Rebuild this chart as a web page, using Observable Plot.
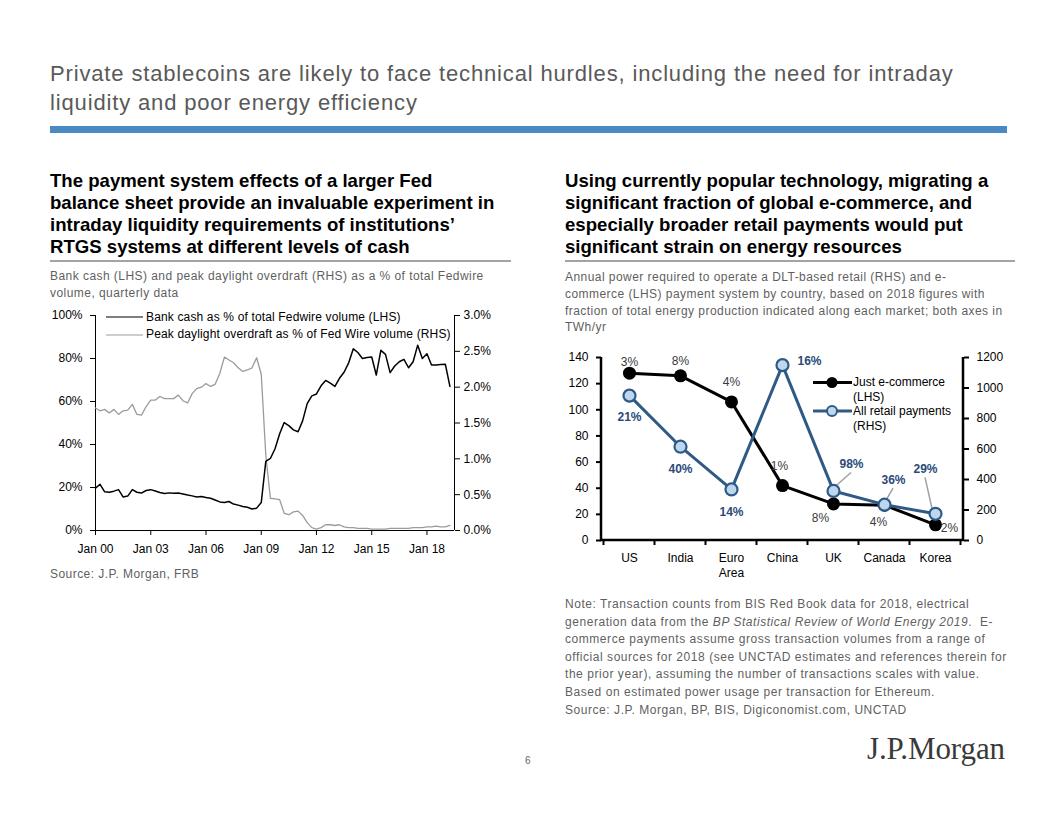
<!DOCTYPE html>
<html><head><meta charset="utf-8">
<script src="https://cdn.jsdelivr.net/npm/d3@7"></script>
<script src="https://cdn.jsdelivr.net/npm/@observablehq/plot@0.6"></script>
<style>
html,body{margin:0;padding:0;background:#fff;}
body{width:1056px;height:816px;position:relative;overflow:hidden;font-family:"Liberation Sans",Arial,sans-serif;}
.abs{position:absolute;white-space:nowrap;}
#title{left:50px;top:59px;font-size:22px;line-height:29px;color:#595959;letter-spacing:0.85px;}
#bar{left:50px;top:126px;width:957px;height:7px;background:#4a89c2;}
.hdr{font-weight:bold;font-size:18.6px;line-height:22px;color:#000;top:170px;}
.sep{height:2px;background:#a3a3a3;top:260px;}
.sub{font-size:12px;color:#5f5f5f;letter-spacing:0.45px;}
.leg{font-size:12px;color:#000;letter-spacing:0.15px;}
svg text{font-family:"Liberation Sans",Arial,sans-serif;}
</style></head>
<body>
<div id="title" class="abs">Private stablecoins are likely to face technical hurdles, including the need for intraday<br>liquidity and poor energy efficiency</div>
<div id="bar" class="abs"></div>
<div class="abs hdr" style="left:50px">The payment system effects of a larger Fed<br>balance sheet provide an invaluable experiment in<br>intraday liquidity requirements of institutions’<br>RTGS systems at different levels of cash</div>
<div class="abs hdr" style="left:565px">Using currently popular technology, migrating a<br>significant fraction of global e-commerce, and<br>especially broader retail payments would put<br>significant strain on energy resources</div>
<div class="abs sep" style="left:50px;width:461px"></div>
<div class="abs sep" style="left:565px;width:450px"></div>
<div class="abs sub" style="left:50px;top:268px;line-height:17px">Bank cash (LHS) and peak daylight overdraft (RHS) as a % of total Fedwire<br>volume, quarterly data</div>
<div class="abs sub" style="left:565px;top:269px;line-height:16.8px">Annual power required to operate a DLT-based retail (RHS) and e-<br>commerce (LHS) payment system by country, based on 2018 figures with<br>fraction of total energy production indicated along each market; both axes in<br>TWh/yr</div>
<div id="c1" class="abs" style="left:40px;top:300px"></div>
<div id="c2" class="abs" style="left:560px;top:340px"></div>
<div class="abs sub" style="left:50px;top:566px;line-height:17px">Source: J.P. Morgan, FRB</div>
<div class="abs sub" style="left:565px;top:596px;line-height:17.6px;letter-spacing:0.55px">Note: Transaction counts from BIS Red Book data for 2018, electrical<br>generation data from the <i>BP Statistical Review of World Energy 2019</i>.&nbsp; E-<br>commerce payments assume gross transaction volumes from a range of<br>official sources for 2018 (see UNCTAD estimates and references therein for<br>the prior year), assuming the number of transactions scales with value.<br>Based on estimated power usage per transaction for Ethereum.<br>Source: J.P. Morgan, BP, BIS, Digiconomist.com, UNCTAD</div>
<div class="abs" style="left:525px;top:755px;font-size:10px;color:#666">6</div>
<div class="abs" style="left:867px;top:731px;font-family:'Liberation Serif','DejaVu Serif',serif;font-size:31px;color:#3a3a3a;letter-spacing:-0.1px">J.P.Morgan</div>

<!-- left legend -->
<div class="abs leg" style="left:106px;top:309px">
  <svg width="40" height="34" style="position:absolute;left:0;top:0"><line x1="0" x2="37" y1="8" y2="8" stroke="#000" stroke-width="1.2"/><line x1="0" x2="37" y1="26" y2="26" stroke="#9b9b9b" stroke-width="1.2"/></svg>
  <div class="abs" style="left:40px;top:0;line-height:17px">Bank cash as % of total Fedwire volume (LHS)<br>Peak daylight overdraft as % of Fed Wire volume (RHS)</div>
</div>
<!-- right legend -->
<div class="abs leg" style="left:813px;top:374px">
  <svg width="42" height="50" style="position:absolute;left:0;top:0"><line x1="0" x2="39" y1="8.5" y2="8.5" stroke="#000" stroke-width="3"/><circle cx="19" cy="8.5" r="5.5" fill="#000"/><line x1="0" x2="39" y1="37" y2="37" stroke="#2f5a86" stroke-width="3"/><circle cx="19" cy="37" r="5" fill="#bdd7ee" stroke="#2f5a86" stroke-width="2"/></svg>
  <div class="abs" style="left:40px;top:1px;line-height:14.5px;letter-spacing:0">Just e-commerce<br>(LHS)<br>All retail payments<br>(RHS)</div>
</div>

<script>
// ---------------- Left chart data (quarterly, 2000Q1 - 2019Q2) ----------------
const quarterStart = [2000, 0];
const bankCash = [ // % of total Fedwire volume (LHS)
  19.7,21.5,18.0,17.8,18.3,19.0,15.6,16.0,19.0,17.8,17.4,18.6,19.0,18.4,17.7,17.2,
  17.5,17.3,17.4,17.0,16.5,16.1,15.6,15.8,15.3,15.0,14.2,13.3,13.0,13.5,12.3,11.8,
  11.2,10.8,10.0,10.4,13.0,32.2,33.5,38.0,45.0,50.2,48.8,46.8,45.9,51.0,59.0,62.6,
  63.5,67.3,69.8,68.5,67.0,70.8,73.6,78.0,84.5,82.8,80.0,80.5,80.7,72.3,83.8,81.9,
  73.4,76.5,78.5,79.6,75.7,78.5,86.2,80.0,82.2,77.0,77.0,77.2,77.3,67.0];
const overdraft = [ // peak daylight overdraft, % of Fedwire volume (RHS)
  1.71,1.67,1.69,1.64,1.69,1.62,1.67,1.68,1.76,1.62,1.61,1.73,1.82,1.82,1.87,1.84,
  1.84,1.84,1.89,1.81,1.78,1.91,1.98,2.00,2.05,2.01,2.04,2.19,2.42,2.38,2.34,2.27,
  2.22,2.24,2.27,2.41,2.18,1.05,0.45,0.44,0.43,0.24,0.22,0.26,0.27,0.21,0.11,0.04,
  0.02,0.04,0.08,0.08,0.07,0.08,0.05,0.04,0.04,0.03,0.03,0.03,0.02,0.02,0.02,0.02,
  0.03,0.03,0.03,0.03,0.03,0.04,0.04,0.04,0.05,0.05,0.06,0.05,0.05,0.07];
const leftTicks = [0, 20, 40, 60, 80, 100];
const rightTicks = [0, 0.5, 1.0, 1.5, 2.0, 2.5, 3.0];
const yearTicks = [2000, 2003, 2006, 2009, 2012, 2015, 2018];

// ---------------- Right chart data ----------------
const countries = ["US", "India", "Euro Area", "China", "UK", "Canada", "Korea"];
const ecommerce = [128, 126, 106, 42, 28, 27, 12];          // TWh/yr, LHS
const retail = [950, 615, 335, 1150, 325, 235, 175];         // TWh/yr, RHS
const ecomShare = ["3%", "8%", "4%", "1%", "8%", "4%", "2%"];
const retailShare = ["21%", "40%", "14%", "16%", "98%", "36%", "29%"];
const lhsTicks2 = [0, 20, 40, 60, 80, 100, 120, 140];
const rhsTicks2 = [0, 200, 400, 600, 800, 1000, 1200];

const FONT = "'Liberation Sans', Arial, sans-serif";

// ---------------- Left chart ----------------
const ratio1 = 100 / 3;
const leftRows = bankCash.map((v, i) => ({
  date: new Date(quarterStart[0], quarterStart[1] + 3 * i, 1),
  cash: v,
  od: overdraft[i] * ratio1
}));
const xStart = new Date(2000, 0, 1), xEnd = new Date(2019, 6, 1);
const chart1 = Plot.plot({
  width: 470, height: 265, marginLeft: 55, marginRight: 56, marginTop: 15, marginBottom: 35,
  style: {fontFamily: FONT, fontSize: "12px", color: "#000", background: "transparent", overflow: "visible"},
  x: {type: "time", domain: [xStart, xEnd]},
  y: {domain: [0, 100]},
  marks: [
    Plot.ruleY([0], {stroke: "#000"}),
    Plot.ruleX([xStart], {stroke: "#000"}),
    Plot.ruleX([xEnd], {stroke: "#000"}),
    Plot.axisY({anchor: "left", ticks: leftTicks, tickFormat: d => d + "%", tickSize: 5, tickPadding: 8, label: null}),
    Plot.axisY({anchor: "right", ticks: rightTicks.map(v => v * ratio1), tickFormat: v => (v / ratio1).toFixed(1) + "%", tickSize: 5, tickPadding: 4, label: null}),
    Plot.axisX({ticks: yearTicks.map(y => new Date(y, 0, 1)), tickFormat: d => "Jan " + String(d.getFullYear()).slice(2), tickSize: 5, tickPadding: 9, label: null}),
    Plot.line(leftRows, {x: "date", y: "od", stroke: "#9b9b9b", strokeWidth: 1.3}),
    Plot.line(leftRows, {x: "date", y: "cash", stroke: "#000", strokeWidth: 1.5})
  ]
});
document.getElementById("c1").appendChild(chart1);

// ---------------- Right chart ----------------
const ratio2 = 140 / 1200;
const BLUE = "#2f5a86", LIGHT = "#bdd7ee", LABELBLUE = "#2b4a78";
const rightRows = countries.map((c, i) => ({
  country: c, ecom: ecommerce[i], retail: retail[i] * ratio2,
  ecomLabel: ecomShare[i], retailLabel: retailShare[i]
}));
// label offsets (pixels) relative to each point
const ecomOffsets = {"US": [0, -11], "India": [0, -15], "Euro Area": [0, -20], "China": [-3, -19], "UK": [-13, 14], "Canada": [-6, 17], "Korea": [14, 3]};
const retailOffsets = {"US": [0, 22], "India": [0, 22], "Euro Area": [0, 23], "China": [27, -4], "UK": [18, -27], "Canada": [9, -25], "Korea": [-10, -45]};
const leaders = {"UK": [[1, -3], [18, -18]], "Canada": [[1, -2], [9, -16]], "Korea": [[-3, -5], [-10, -36]]};

function frameMark(index, scales, values, dim) {
  const g = d3.create("svg:g");
  const x = scales.x;
  const step = x(countries[1]) - x(countries[0]);
  const l = dim.marginLeft, r = dim.width - dim.marginRight, b = dim.height - dim.marginBottom, t = dim.marginTop;
  g.append("path").attr("fill", "none").attr("stroke", "#000").attr("stroke-width", 2.5)
    .attr("d", `M${l},${t}V${b}H${r}V${t}`);
  const bounds = countries.map(c => x(c) - step / 2).concat([x(countries[countries.length - 1]) + step / 2]);
  g.selectAll("line.t").data(bounds).join("line")
    .attr("x1", d => d).attr("x2", d => d).attr("y1", b).attr("y2", b + 5)
    .attr("stroke", "#000").attr("stroke-width", 2);
  return g.node();
}
function leaderMark(index, scales) {
  const g = d3.create("svg:g");
  rightRows.forEach(row => {
    const seg = leaders[row.country];
    if (!seg) return;
    const px = scales.x(row.country), py = scales.y(row.retail);
    g.append("line").attr("x1", px + seg[0][0]).attr("y1", py + seg[0][1])
      .attr("x2", px + seg[1][0]).attr("y2", py + seg[1][1])
      .attr("stroke", "#a0a0a0").attr("stroke-width", 1.5);
  });
  return g.node();
}

const chart2 = Plot.plot({
  width: 460, height: 250, marginLeft: 41, marginRight: 57, marginTop: 17, marginBottom: 50,
  style: {fontFamily: FONT, fontSize: "12px", color: "#000", background: "transparent", overflow: "visible"},
  x: {type: "point", domain: countries, padding: 0.5},
  y: {domain: [0, 140]},
  marks: [
    Plot.axisY({anchor: "left", ticks: lhsTicks2, tickSize: 5, tickPadding: 8, strokeWidth: 2, label: null}),
    Plot.axisY({anchor: "right", ticks: rhsTicks2.map(v => v * ratio2), tickFormat: v => String(Math.round(v / ratio2)), tickSize: 5, tickPadding: 8, strokeWidth: 2, label: null}),
    Plot.axisX({tickSize: 0, tickPadding: 11, tickFormat: d => d === "Euro Area" ? "Euro\nArea" : d, label: null, lineHeight: 1.25}),
    frameMark,
    leaderMark,
    Plot.line(rightRows, {x: "country", y: "ecom", stroke: "#000", strokeWidth: 3}),
    Plot.line(rightRows, {x: "country", y: "retail", stroke: BLUE, strokeWidth: 3}),
    Plot.dot(rightRows, {x: "country", y: "ecom", r: 6.5, fill: "#000"}),
    Plot.dot(rightRows, {x: "country", y: "retail", r: 6, fill: LIGHT, stroke: BLUE, strokeWidth: 2.2}),
    ...rightRows.map(row => Plot.text([row], {x: "country", y: "ecom", text: "ecomLabel", dx: ecomOffsets[row.country][0], dy: ecomOffsets[row.country][1], fill: "#3a3a3a", fontSize: 12})),
    ...rightRows.map(row => Plot.text([row], {x: "country", y: "retail", text: "retailLabel", dx: retailOffsets[row.country][0], dy: retailOffsets[row.country][1], fill: LABELBLUE, fontSize: 12, fontWeight: "bold"}))
  ]
});
document.getElementById("c2").appendChild(chart2);
</script>
</body></html>
